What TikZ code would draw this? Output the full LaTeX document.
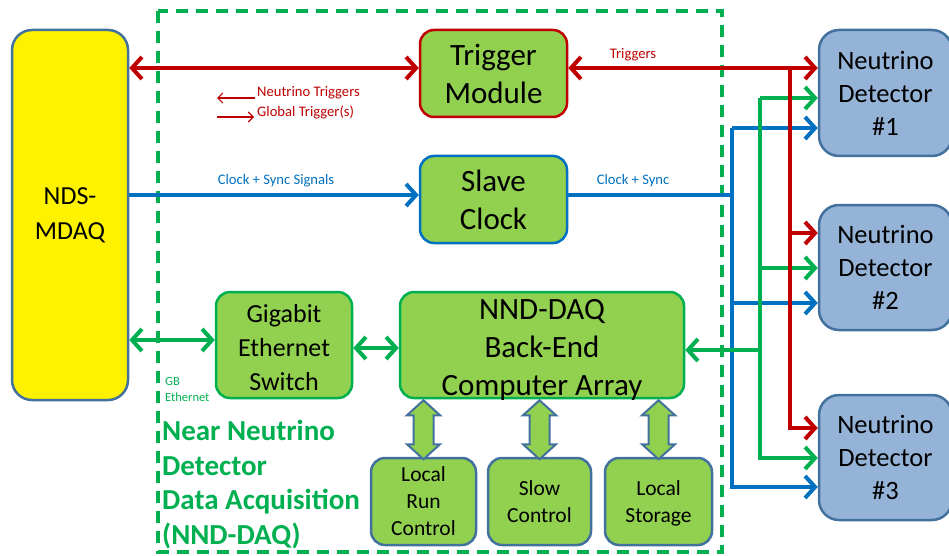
\documentclass[tikz,border=0pt]{standalone}
\usepackage{fontspec}
\setmainfont{Carlito}
\usetikzlibrary{arrows.meta,calc}
\definecolor{lgreen}{HTML}{92D050}
\definecolor{dgreen}{HTML}{00B050}
\definecolor{dred}{HTML}{C00000}
\definecolor{dblue}{HTML}{0070C0}
\definecolor{bgray}{HTML}{41719C}
\definecolor{ndfill}{HTML}{95B3D7}
\begin{document}
\begin{tikzpicture}[x=1pt,y=-1pt,
  box/.style={rounded corners=14pt, line width=2.5pt, align=center, inner sep=0pt, text=black},
  bigtxt/.style={font=\fontsize{31}{38}\selectfont},
  midtxt/.style={font=\fontsize{26}{34}\selectfont},
  smalltxt/.style={font=\fontsize{21.5}{27}\selectfont},
  lbl/.style={font=\fontsize{14.6}{17}\selectfont, inner sep=0pt},
  conn/.style={line width=4pt, arrows={-Straight Barb[length=10pt,width=22pt]}},
  dconn/.style={line width=4pt, arrows={Straight Barb[length=10pt,width=22pt]-Straight Barb[length=10pt,width=22pt]}},
  thinarr/.style={line width=1.1pt, dred, arrows={-Straight Barb[length=5pt,width=10pt]}},
  blockarr/.style={fill=lgreen, draw=bgray, line width=2pt, line join=miter}
]
\clip (0,0) rectangle (949,556);
\useasboundingbox (0,0) rectangle (949,556);

% dashed NND-DAQ region
\draw[dgreen, line width=3.5pt, dash pattern=on 12pt off 8pt] (158,11) rectangle (722,552);

% nodes
\node[box, fill=yellow, draw=bgray, rounded corners=20pt, minimum width=116pt, minimum height=370pt, font=\fontsize{26}{35}\selectfont] (mdaq) at (70,215) {NDS-\\MDAQ};
\node[box, bigtxt, fill=lgreen, draw=dred, minimum width=147pt, minimum height=87pt] (trig) at (493.5,73.5) {Trigger\\Module};
\node[box, bigtxt, fill=lgreen, draw=dblue, minimum width=147pt, minimum height=87pt] (slave) at (493.5,199.5) {Slave\\Clock};
\node[box, fill=lgreen, draw=dgreen, minimum width=136pt, minimum height=106pt,
      label={[midtxt, align=center, yshift=-2.5pt]center:{Gigabit\\Ethernet\\Switch}}] (gig) at (284,345) {};
\node[box, fill=lgreen, draw=dgreen, minimum width=284pt, minimum height=106pt,
      label={[bigtxt, align=center, yshift=-5pt]center:{NND-DAQ\\Back-End\\Computer Array}}] (nnd) at (542,345) {};
\node[box, smalltxt, fill=lgreen, draw=bgray, minimum width=105pt, minimum height=87pt] (lrc) at (423.5,501.5) {Local\\Run\\Control};
\node[box, smalltxt, fill=lgreen, draw=bgray, minimum width=103pt, minimum height=87pt] (slow) at (539.5,501.5) {Slow\\Control};
\node[box, fill=lgreen, draw=bgray, minimum width=107pt, minimum height=87pt,
      label={[smalltxt, align=center, yshift=-2pt]center:{Local\\Storage}}] (stor) at (658.5,501.5) {};
\node[box, font=\fontsize{26.5}{33}\selectfont, fill=ndfill, draw=bgray, rounded corners=20pt, minimum width=133pt, minimum height=126pt] (nd1) at (885.5,93) {Neutrino\\Detector\\\#1};
\node[box, font=\fontsize{26.5}{33}\selectfont, fill=ndfill, draw=bgray, rounded corners=20pt, minimum width=133pt, minimum height=125pt] (nd2) at (885.5,267.5) {Neutrino\\Detector\\\#2};
\node[box, font=\fontsize{26.5}{33}\selectfont, fill=ndfill, draw=bgray, rounded corners=20pt, minimum width=133pt, minimum height=125pt] (nd3) at (885.5,457.5) {Neutrino\\Detector\\\#3};

% helper coordinates
\coordinate (yTrig) at (0,68);
\coordinate (yClk) at (0,195);
\coordinate (yGb) at (0,340);
\coordinate (yGb2) at (0,348);
\coordinate (rsplit) at (790,68);
\coordinate (gtop) at (760,98);
\coordinate (gret) at (760,350);
\coordinate (btop) at (732,128);
\coordinate (bjoin) at (732,195);

% blue connectors
\draw[conn, dblue] (mdaq.east |- yClk) -- (slave.west |- yClk);
\draw[line width=4pt, dblue] (slave.east |- yClk) -- (bjoin);
\draw[conn, dblue] (btop) -- (nd1.west |- btop);
\draw[conn, dblue] (btop) |- (nd2.west |- 0,303);
\draw[conn, dblue] (btop) |- (nd3.west |- 0,487);

% green connectors
\draw[conn, dgreen] (gtop) -- (nd1.west |- gtop);
\draw[conn, dgreen] (gtop) |- (nd2.west |- 0,268);
\draw[conn, dgreen] (gtop) |- (nd3.west |- 0,458);
\draw[conn, dgreen] (gret) -- (nnd.east |- gret);
\draw[dconn, dgreen] (mdaq.east |- yGb) -- (gig.west |- yGb);
\draw[dconn, dgreen] (gig.east |- yGb2) -- (nnd.west |- yGb2);

% red connectors
\draw[dconn, dred] (mdaq.east |- yTrig) -- (trig.west |- yTrig);
\draw[dconn, dred] (trig.east |- yTrig) -- (nd1.west |- yTrig);
\draw[conn, dred] (rsplit) |- (nd2.west |- 0,233);
\draw[conn, dred] (rsplit) |- (nd3.west |- 0,428);

% block double arrows
\foreach \n in {lrc,slow,stor}{
  \draw[blockarr] (\n.north |- nnd.south) ++(0,1) -- ++(16.5,15) -- ++(-6.5,0) -- ++(0,29) -- ++(6.5,0) -- ++(-16.5,15) -- ++(-16.5,-15) -- ++(6.5,0) -- ++(0,-29) -- ++(-6.5,0) -- cycle;
}

% labels
\node[lbl, text=dred] (ltrig) at (633,55) {Triggers};
\node[lbl, text=dred, anchor=west] (lnt) at (257,93) {Neutrino Triggers};
\node[lbl, text=dred, anchor=west] (lgt) at (257,112) {Global Trigger(s)};
\coordinate (a1s) at (255,98);
\coordinate (a1e) at (217,98);
\coordinate (a2s) at (217,117);
\coordinate (a2e) at (254,117);
\draw[thinarr] (a1s) -- (a1e);
\draw[thinarr] (a2s) -- (a2e);
\node[lbl, text=dblue] (lcs) at (276,181) {Clock + Sync Signals};
\node[lbl, text=dblue] (lcs2) at (633,181) {Clock + Sync};
\node[font=\fontsize{12.5}{16}\selectfont, text=dgreen, anchor=north west, align=left, inner sep=0pt] (lgb) at (165,377) {GB\\Ethernet};
\node[font=\bfseries\fontsize{29}{34.5}\selectfont, text=dgreen, anchor=north west, align=left, inner sep=0pt] (title) at (162,420) {Near Neutrino\\Detector\\Data Acquisition\\(NND-DAQ)};
\end{tikzpicture}
\end{document}
